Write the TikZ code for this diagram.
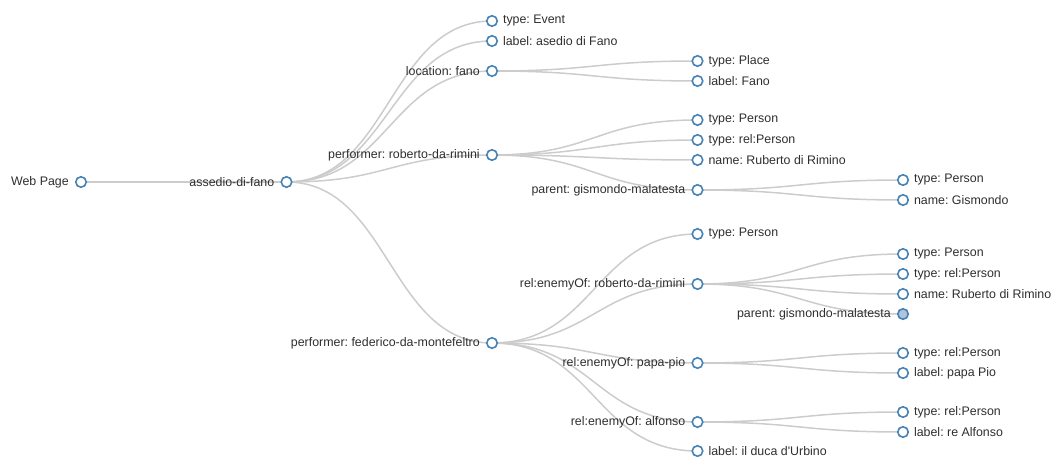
\documentclass[tikz,border=0pt]{standalone}
\usepackage{fontspec}
\setmainfont{Liberation Sans}
\usetikzlibrary{calc,backgrounds}
\frenchspacing
\definecolor{dotc}{HTML}{4682B4}
\definecolor{lsb}{HTML}{B0C4DE}
\definecolor{linkc}{HTML}{CCCCCC}
\definecolor{txt}{HTML}{2E2E2E}
\tikzset{
  dot/.style={circle, draw=dotc, fill=white, line width=1.6pt, minimum size=10.5pt, inner sep=0pt},
  fulldot/.style={dot, fill=lsb},
  lbl/.style={font=\fontsize{12.4}{15}\selectfont\frenchspacing, text=txt, inner sep=0pt},
  L/.style={label={[lbl, label distance=6pt]left:#1}},
  R/.style={label={[lbl, label distance=4.8pt]right:#1}},
  link/.style={draw=linkc, line width=1.5pt}
}
\newcommand\treelink[2]{\draw[link] (#1.center) .. controls ($(#1.center)+(102.75,0)$) and ($(#2.center)-(102.75,0)$) .. (#2.center);}
\begin{document}
\begin{tikzpicture}[x=1pt,y=-1pt]
\useasboundingbox (0,0) rectangle (1054,457);
% depth 0,1
\node[dot, L={Web Page}] (web) at (81,182) {};
\node[dot, L={assedio-di-fano}] (af) at (286.5,182) {};
% depth 2
\node[dot, R={type: Event}] (ev) at (492,21) {};
\node[dot, R={label: asedio di Fano}] (lab) at (492,41) {};
\node[dot, L={location: fano}] (loc) at (492,71) {};
\node[dot, L={performer: roberto-da-rimini}] (rob) at (492,155) {};
\node[dot, L={performer: federico-da-montefeltro}] (fed) at (492,343) {};
% depth 3
\node[dot, R={type: Place}] (pl) at (697.5,61) {};
\node[dot, R={label: Fano}] (fa) at (697.5,81) {};
\node[dot, R={type: Person}] (rp1) at (697.5,120) {};
\node[dot, R={type: rel:Person}] (rp2) at (697.5,140) {};
\node[dot, R={name: Ruberto di Rimino}] (rp3) at (697.5,160) {};
\node[dot, L={parent: gismondo-malatesta}] (gis) at (697.5,190) {};
\node[dot, R={type: Person}] (fp1) at (697.5,234) {};
\node[dot, L={rel:enemyOf: roberto-da-rimini}] (er) at (697.5,284) {};
\node[dot, L={rel:enemyOf: papa-pio}] (pp) at (697.5,363) {};
\node[dot, L={rel:enemyOf: alfonso}] (al) at (697.5,422) {};
\node[dot, R={label: il duca d\textquotesingle Urbino}] (du) at (697.5,451) {};
% depth 4
\node[dot, R={type: Person}] (g1) at (903,180) {};
\node[dot, R={name: Gismondo}] (g2) at (903,200) {};
\node[dot, R={type: Person}] (e1) at (903,254) {};
\node[dot, R={type: rel:Person}] (e2) at (903,274) {};
\node[dot, R={name: Ruberto di Rimino}] (e3) at (903,294) {};
\node[fulldot, L={parent: gismondo-malatesta}] (e4) at (903,314) {};
\node[dot, R={type: rel:Person}] (p1) at (903,353) {};
\node[dot, R={label: papa Pio}] (p2) at (903,373) {};
\node[dot, R={type: rel:Person}] (a1) at (903,412) {};
\node[dot, R={label: re Alfonso}] (a2) at (903,432) {};
\begin{pgfonlayer}{background}
\treelink{web}{af}
\treelink{af}{ev}
\treelink{af}{lab}
\treelink{af}{loc}
\treelink{af}{rob}
\treelink{af}{fed}
\treelink{loc}{pl}
\treelink{loc}{fa}
\treelink{rob}{rp1}
\treelink{rob}{rp2}
\treelink{rob}{rp3}
\treelink{rob}{gis}
\treelink{gis}{g1}
\treelink{gis}{g2}
\treelink{fed}{fp1}
\treelink{fed}{er}
\treelink{fed}{pp}
\treelink{fed}{al}
\treelink{fed}{du}
\treelink{er}{e1}
\treelink{er}{e2}
\treelink{er}{e3}
\treelink{er}{e4}
\treelink{pp}{p1}
\treelink{pp}{p2}
\treelink{al}{a1}
\treelink{al}{a2}
\end{pgfonlayer}
\end{tikzpicture}
\end{document}
